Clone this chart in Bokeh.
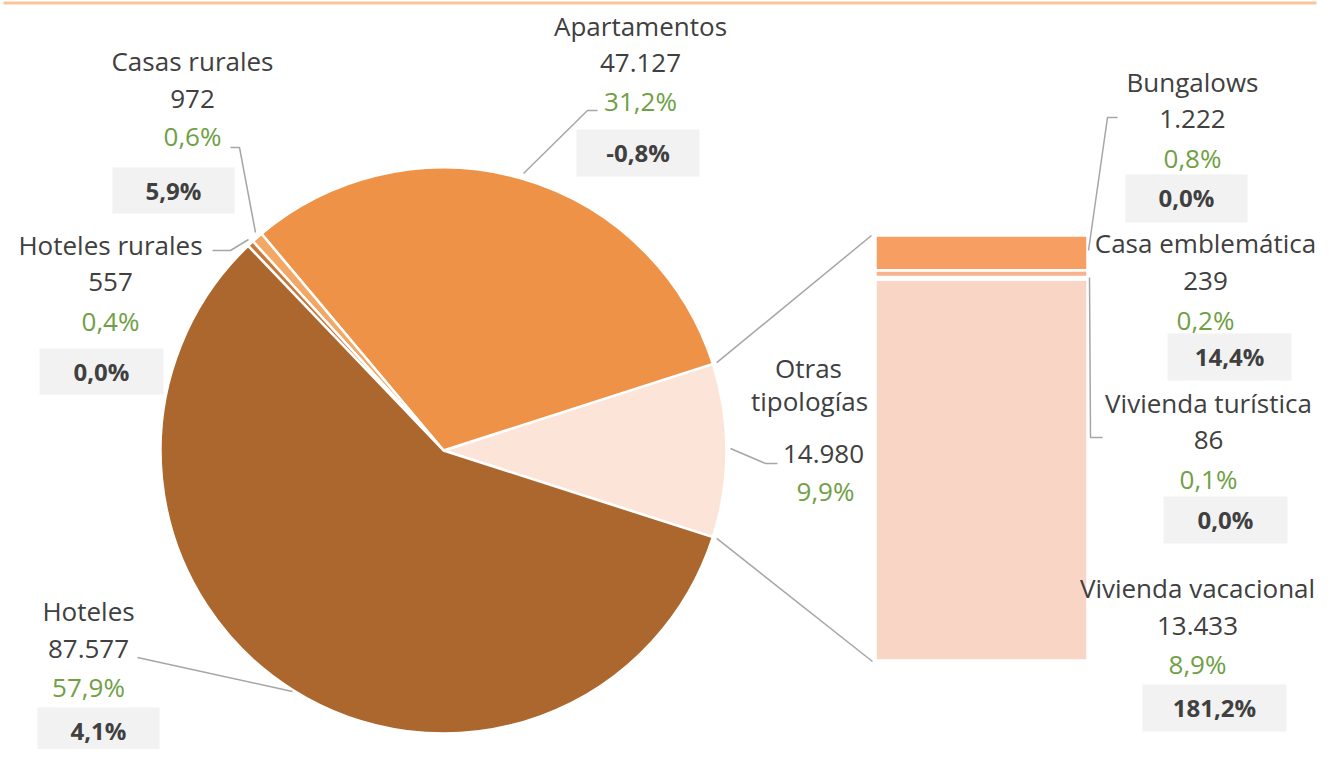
import math
from bokeh.plotting import figure
from bokeh.models import Range1d, ColumnDataSource
from bokeh.core.properties import value
from bokeh.embed import file_html
from bokeh.resources import INLINE

# ---------------- data ----------------
pie_names = ["Otras tipologías", "Apartamentos", "Casas rurales", "Hoteles rurales", "Hoteles"]
pie_values = [14980, 47127, 972, 557, 87577]
pie_shares = ["9,9%", "31,2%", "0,6%", "0,4%", "57,9%"]
pie_changes = [None, "-0,8%", "5,9%", "0,0%", "4,1%"]
pie_colors = ["#FCE4D9", "#ED9246", "#F2A765", "#C87A3C", "#AB672E"]

bar_names = ["Vivienda vacacional", "Vivienda turística", "Casa emblemática", "Bungalows"]
bar_values = [13433, 86, 239, 1222]
bar_shares = ["8,9%", "0,1%", "0,2%", "0,8%"]
bar_changes = ["181,2%", "0,0%", "14,4%", "0,0%"]
bar_colors = ["#F9D5C6", "#F8C4A8", "#F8B38C", "#F79F63"]

# ---------------- layout (screen px) ----------------
W, H = 1318, 749
def Y(sy):
    return H - sy

FONT = value("Open Sans")
DARK = "#404040"
GREEN = "#70A045"
GRAY = "#A6A6A6"

p = figure(width=W, height=H, output_backend="svg", toolbar_location=None,
           x_range=Range1d(0, W), y_range=Range1d(0, H), min_border=0)
p.axis.visible = False
p.grid.visible = False
p.outline_line_color = None
p.background_fill_color = "white"
p.border_fill_color = "white"

# top accent line
p.line([3, 1316], [Y(2.5), Y(2.5)], line_color="#F9C59A", line_width=3)

# ---------------- pie ----------------
cx, cy, R = 443, 450, 283
total = sum(pie_values)
start = -math.pi * pie_values[0] / total
starts, ends = [], []
a = start
for v in pie_values:
    starts.append(a)
    a += 2 * math.pi * v / total
    ends.append(a)
psrc = ColumnDataSource(dict(x=[cx] * 5, y=[Y(cy)] * 5, s=starts, e=ends, c=pie_colors))
p.wedge(x="x", y="y", radius=R, start_angle="s", end_angle="e", fill_color="c",
        line_color="white", line_width=2.5, source=psrc)

# ---------------- bar ----------------
bx0, bx1, btop, bbot = 875, 1087, 235, 660
bar_total = sum(bar_values)
scale = (bbot - btop) / bar_total
bottoms, tops = [], []
acc = 0
for v in bar_values:
    bottoms.append(Y(bbot) + acc * scale)
    acc += v
    tops.append(Y(bbot) + acc * scale)
bsrc = ColumnDataSource(dict(l=[bx0] * 4, r=[bx1] * 4, b=bottoms, t=tops, c=bar_colors))
p.quad(left="l", right="r", bottom="b", top="t", fill_color="c", line_color="white",
       line_width=2.5, source=bsrc)

# connectors from pie to bar
ang = math.pi * pie_values[0] / total
ex = cx + (R + 4) * math.cos(ang)
ey_up = cy - (R + 4) * math.sin(ang)
ey_dn = cy + (R + 4) * math.sin(ang)
p.line([ex, bx0 - 4], [Y(ey_up), Y(btop)], line_color=GRAY, line_width=1.5)
p.line([ex, bx0 - 3], [Y(ey_dn), Y(bbot + 1)], line_color=GRAY, line_width=1.5)

# ---------------- labels ----------------
# name -> (center x, name y, value y, share y, box (x0,x1,y0,y1))
lab = {
    "Hoteles": (88, 610, 648, 686, (37, 159, 707, 760)),
    "Hoteles rurales": (110, 244, 281, 320, (39, 163, 348, 394)),
    "Casas rurales": (192, 60, 98, 135, (112, 234, 167, 213)),
    "Apartamentos": (640, 25, 62, 100, (576, 699, 129, 176)),
    "Bungalows": (1192, 81, 118, 157, (1125, 1247, 174, 222)),
    "Casa emblemática": (1205, 242, 280, 319, (1167, 1291, 333, 380)),
    "Vivienda turística": (1208, 402, 439, 478, (1163, 1287, 496, 543)),
    "Vivienda vacacional": (1197, 587, 625, 663, (1142, 1286, 684, 731)),
}

def fmt(v):
    return f"{v:,}".replace(",", ".")

tx, ty, tt = [], [], []
gx, gy, gt = [], [], []
qx0, qx1, qy0, qy1 = [], [], [], []
kx, ky, kt = [], [], []

all_names = pie_names + bar_names
all_values = pie_values + bar_values
all_shares = pie_shares + bar_shares
all_changes = pie_changes + bar_changes
for n, v, s, ch in zip(all_names, all_values, all_shares, all_changes):
    if n not in lab:
        continue
    x, yn, yv, ys, box = lab[n]
    tx += [x, x]; ty += [Y(yn), Y(yv)]; tt += [n, fmt(v)]
    gx.append(x); gy.append(Y(ys)); gt.append(s)
    x0, x1, y0, y1 = box
    qx0.append(x0); qx1.append(x1); qy0.append(Y(y1)); qy1.append(Y(y0))
    kx.append((x0 + x1) / 2)
    ky.append(Y(min((y0 + y1) / 2, y0 + 23)))
    kt.append(ch)

# Otras tipologías label (two-line name)
tx += [808, 809, 823]; ty += [Y(367), Y(400), Y(453)]
tt += ["Otras", "tipologías", fmt(pie_values[0])]
gx.append(825); gy.append(Y(490)); gt.append(pie_shares[0])

p.quad(left=qx0, right=qx1, bottom=qy0, top=qy1, fill_color="#F2F2F2", line_color=None)

p.text(x=tx, y=ty, text=tt, text_font=FONT, text_font_size="26px", text_color=DARK,
       text_align="center", text_baseline="middle")
p.text(x=gx, y=gy, text=gt, text_font=FONT, text_font_size="26px", text_color=GREEN,
       text_align="center", text_baseline="middle")
p.text(x=kx, y=ky, text=kt, text_font=FONT, text_font_size="24px", text_font_style="bold",
       text_color=DARK, text_align="center", text_baseline="middle")

# leader lines
leaders = [
    [(523, 173), (587, 110), (597, 110)],
    [(255, 232), (239, 147), (230, 147)],
    [(248, 239), (230, 250), (212, 250)],
    [(292, 691), (137, 657)],
    [(730, 448), (765, 463), (777, 463)],
    [(1088, 250), (1107, 117), (1117, 117)],
    [(1089, 277), (1090, 437), (1102, 437)],
]
p.multi_line(xs=[[pt[0] for pt in L] for L in leaders],
             ys=[[Y(pt[1]) for pt in L] for L in leaders],
             line_color=GRAY, line_width=1.5)

open("out.html", "w").write(file_html(p, INLINE))
